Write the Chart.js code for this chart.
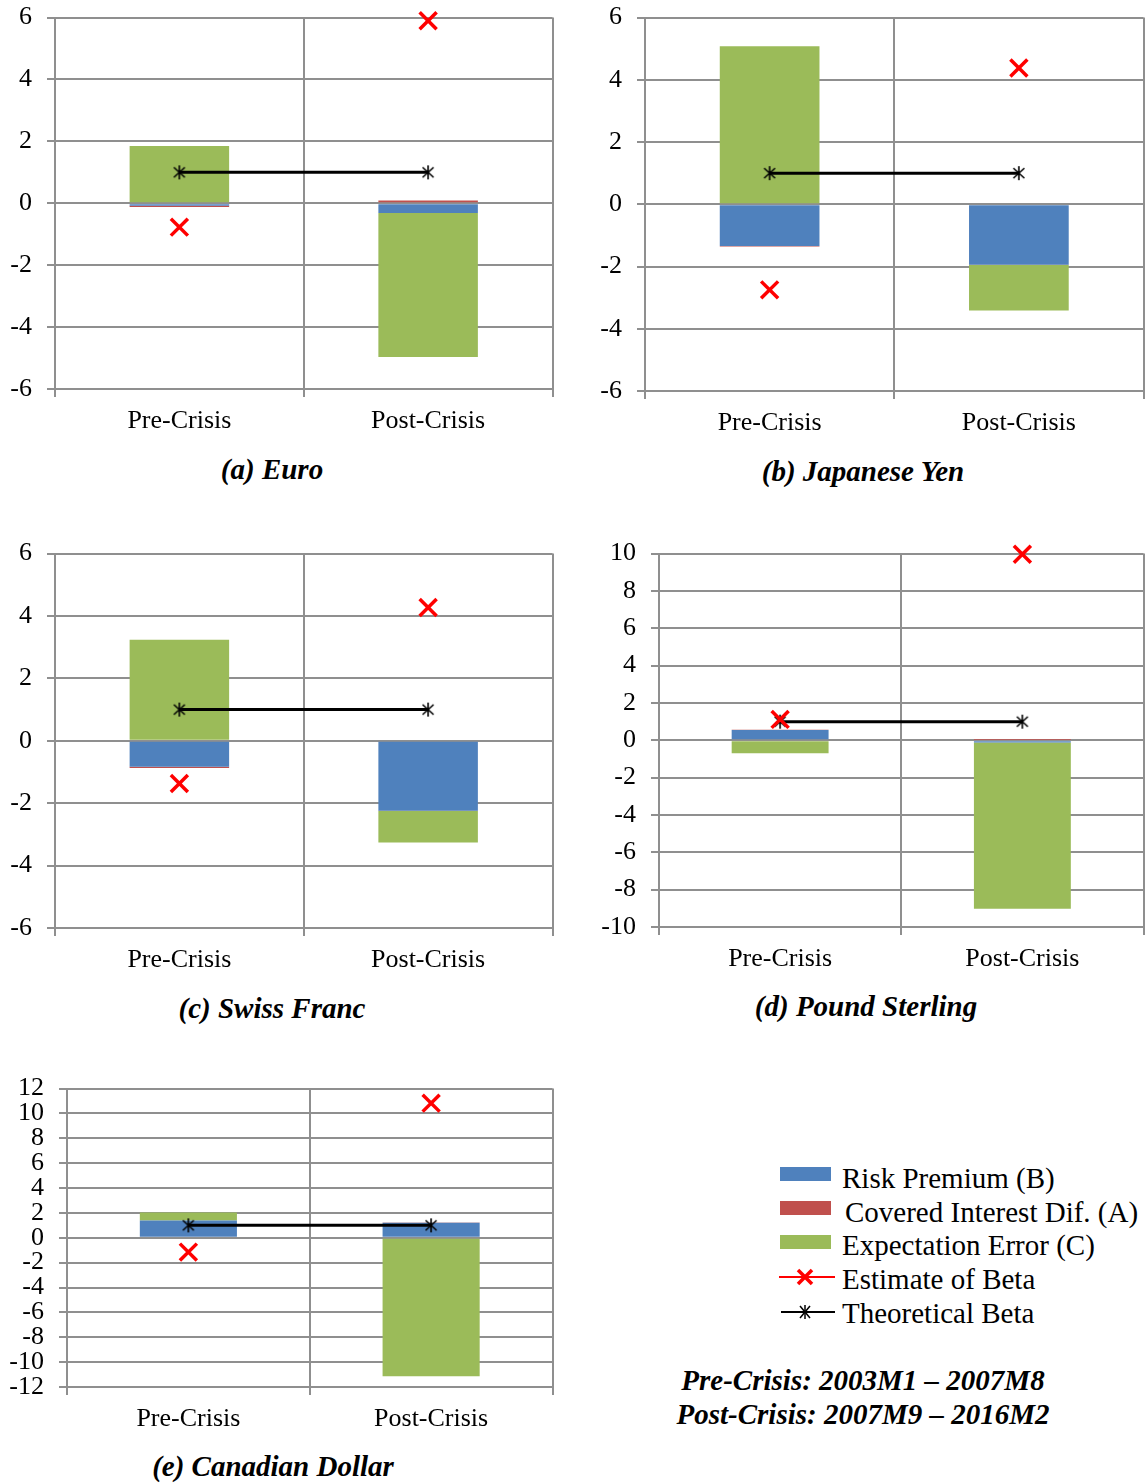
<!DOCTYPE html>
<html>
<head>
<meta charset="utf-8">
<script src="https://cdn.jsdelivr.net/npm/chart.js@4.4.1/dist/chart.umd.min.js"></script>
<style>
  body { margin: 0; background: #fff; }
  #page { position: relative; width: 1145px; height: 1483px; background: #fff; overflow: hidden; }
  canvas { position: absolute; }
  .title, .period {
    position: absolute; font-family: 'Liberation Serif', 'Times New Roman', serif;
    font-size: 29px; font-weight: bold; font-style: italic; line-height: 29px;
    white-space: nowrap; transform: translateX(-50%); color: #000;
  }
  .leg { position: absolute; font-family: 'Liberation Serif', 'Times New Roman', serif;
    font-size: 29px; line-height: 29px; white-space: nowrap; color: #000; }
  .sw { position: absolute; width: 51px; height: 14px; }
  svg { position: absolute; }
</style>
</head>
<body>
<div id="page">
  <canvas id="euro" width="568" height="453" style="left:0;top:-13px"></canvas>
  <canvas id="yen" width="569" height="453" style="left:590px;top:-13px"></canvas>
  <canvas id="chf" width="568" height="453" style="left:0;top:523px"></canvas>
  <canvas id="gbp" width="569" height="453" style="left:590px;top:523px"></canvas>
  <canvas id="cad" width="568" height="383" style="left:0;top:1058px"></canvas>

  <div class="title" style="left:272px;top:455px">(a) Euro</div>
  <div class="title" style="left:863px;top:457px">(b) Japanese Yen</div>
  <div class="title" style="left:272px;top:994px">(c) Swiss Franc</div>
  <div class="title" style="left:866px;top:992px">(d) Pound Sterling</div>
  <div class="title" style="left:273px;top:1452px">(e) Canadian Dollar</div>

  <div class="sw" style="left:780px;top:1167px;background:#4F81BD"></div>
  <div class="sw" style="left:780px;top:1201px;background:#C0504D"></div>
  <div class="sw" style="left:780px;top:1235px;background:#9BBB59"></div>
  <svg style="left:779px;top:1265px" width="56" height="24">
    <line x1="0" y1="12" x2="56" y2="12" stroke="#FF0000" stroke-width="2"/>
    <line x1="19" y1="5" x2="33" y2="19" stroke="#FF0000" stroke-width="3.5"/>
    <line x1="33" y1="5" x2="19" y2="19" stroke="#FF0000" stroke-width="3.5"/>
  </svg>
  <svg style="left:781px;top:1300px" width="56" height="24">
    <line x1="0" y1="12" x2="54" y2="12" stroke="#000" stroke-width="2"/>
    <line x1="19" y1="6" x2="29" y2="18" stroke="#000" stroke-width="1.5"/>
    <line x1="29" y1="6" x2="19" y2="18" stroke="#000" stroke-width="1.5"/>
    <line x1="24" y1="5" x2="24" y2="19" stroke="#000" stroke-width="1.5"/>
  </svg>
  <div id="legendText"></div>

  <div class="period" style="left:863px;top:1366px">Pre-Crisis: 2003M1 – 2007M8</div>
  <div class="period" style="left:863px;top:1400px">Post-Crisis: 2007M9 – 2016M2</div>
</div>

<script>
// categories and legend names
const categories = ["Pre-Crisis", "Post-Crisis"];
const legendNames = ["Risk Premium (B)", "Covered Interest Dif. (A)", "Expectation Error (C)", "Estimate of Beta", "Theoretical Beta"];
const theoretical = [1, 1];

// (a) Euro
const euroRisk = [-0.08, -0.31];
const euroCovered = [-0.04, 0.09];
const euroExpect = [1.85, -4.66];
const euroEstimate = [-0.77, 5.90];

// (b) Japanese Yen
const yenRisk = [-1.34, -1.94];
const yenCovered = [-0.02, -0.01];
const yenExpect = [5.08, -1.46];
const yenEstimate = [-2.75, 4.38];

// (c) Swiss Franc
const chfRisk = [-0.83, -2.24];
const chfCovered = [-0.04, -0.01];
const chfExpect = [3.24, -1.01];
const chfEstimate = [-1.37, 4.27];

// (d) Pound Sterling
const gbpRisk = [0.55, -0.12];
const gbpCovered = [0.01, 0.02];
const gbpExpect = [-0.70, -8.90];
const gbpEstimate = [1.12, 9.97];

// (e) Canadian Dollar
const cadRisk = [1.39, 1.21];
const cadCovered = [0.01, 0.02];
const cadExpect = [0.64, -11.13];
const cadEstimate = [-1.15, 10.83];

const legendRows = [1164, 1198, 1231, 1265, 1299];
const legendLeft = [842, 845, 842, 842, 842];
let lt = "";
for (let i = 0; i < legendNames.length; i++) {
    lt += '<div class="leg" style="left:' + legendLeft[i] + 'px;top:' + legendRows[i] + 'px">' + legendNames[i] + '</div>';
}
document.getElementById("legendText").innerHTML = lt;

const serif = "'Liberation Serif', 'Times New Roman', serif";
const gridGray = "#8f8f8f";

// excel style asterisk marker (x plus vertical bar)
const star = document.createElement("canvas");
star.width = 16; star.height = 16;
const sc = star.getContext("2d");
sc.strokeStyle = "#000"; sc.lineWidth = 1.6;
sc.beginPath();
sc.moveTo(2.5, 3); sc.lineTo(13.5, 13);
sc.moveTo(13.5, 3); sc.lineTo(2.5, 13);
sc.moveTo(8, 1); sc.lineTo(8, 15);
sc.stroke();

function makePanel(id, risk, covered, expect, estimate, yMin, yMax, axisW, xAxisH) {
    const data = {
        labels: categories,
        datasets: [
            {type: "bar", label: legendNames[0], data: risk, backgroundColor: "#4F81BD", stack: "bars", order: 2},
            {type: "bar", label: legendNames[1], data: covered, backgroundColor: "#C0504D", stack: "bars", order: 2},
            {type: "bar", label: legendNames[2], data: expect, backgroundColor: "#9BBB59", stack: "bars", order: 2},
            {type: "line", label: legendNames[3], data: estimate, showLine: false, stack: "est", order: 0,
                pointStyle: "crossRot", pointRadius: 12, pointBorderWidth: 3.5,
                borderColor: "#FF0000", backgroundColor: "#FF0000", pointBorderColor: "#FF0000", clip: false},
            {type: "line", label: legendNames[4], data: theoretical, stack: "theo", order: 1,
                borderColor: "#000", borderWidth: 3, backgroundColor: "#000",
                pointStyle: star, pointRadius: 8, clip: false}
        ]
    };
    const config = {
        type: "bar",
        data: data,
        options: {
            responsive: false,
            animation: false,
            layout: {padding: 0},
            plugins: {legend: {display: false}, tooltip: {enabled: false}},
            datasets: {bar: {barPercentage: 0.4, categoryPercentage: 1}},
            scales: {
                x: {
                    stacked: true,
                    offset: true,
                    grid: {offset: true, color: gridGray, lineWidth: 2, tickLength: 8},
                    border: {color: gridGray, width: 2},
                    ticks: {color: "#000", font: {family: serif, size: 26}, padding: 9, maxRotation: 0},
                    afterFit: function (s) { s.height = xAxisH; }
                },
                y: {
                    stacked: true,
                    min: yMin, max: yMax,
                    grid: {color: gridGray, lineWidth: 2, tickLength: 8},
                    border: {color: gridGray, width: 2},
                    ticks: {stepSize: 2, autoSkip: false, color: "#000", font: {family: serif, size: 26}, padding: 15},
                    afterFit: function (s) { s.width = axisW; }
                }
            }
        }
    };
    return new Chart(document.getElementById(id), config);
}

makePanel("euro", euroRisk, euroCovered, euroExpect, euroEstimate, -6, 6, 55, 51);
makePanel("yen", yenRisk, yenCovered, yenExpect, yenEstimate, -6, 6, 55, 49);
makePanel("chf", chfRisk, chfCovered, chfExpect, chfEstimate, -6, 6, 55, 48);
makePanel("gbp", gbpRisk, gbpCovered, gbpExpect, gbpEstimate, -10, 10, 69, 49);
makePanel("cad", cadRisk, cadCovered, cadExpect, cadEstimate, -12, 12, 67, 54);
</script>
</body>
</html>
